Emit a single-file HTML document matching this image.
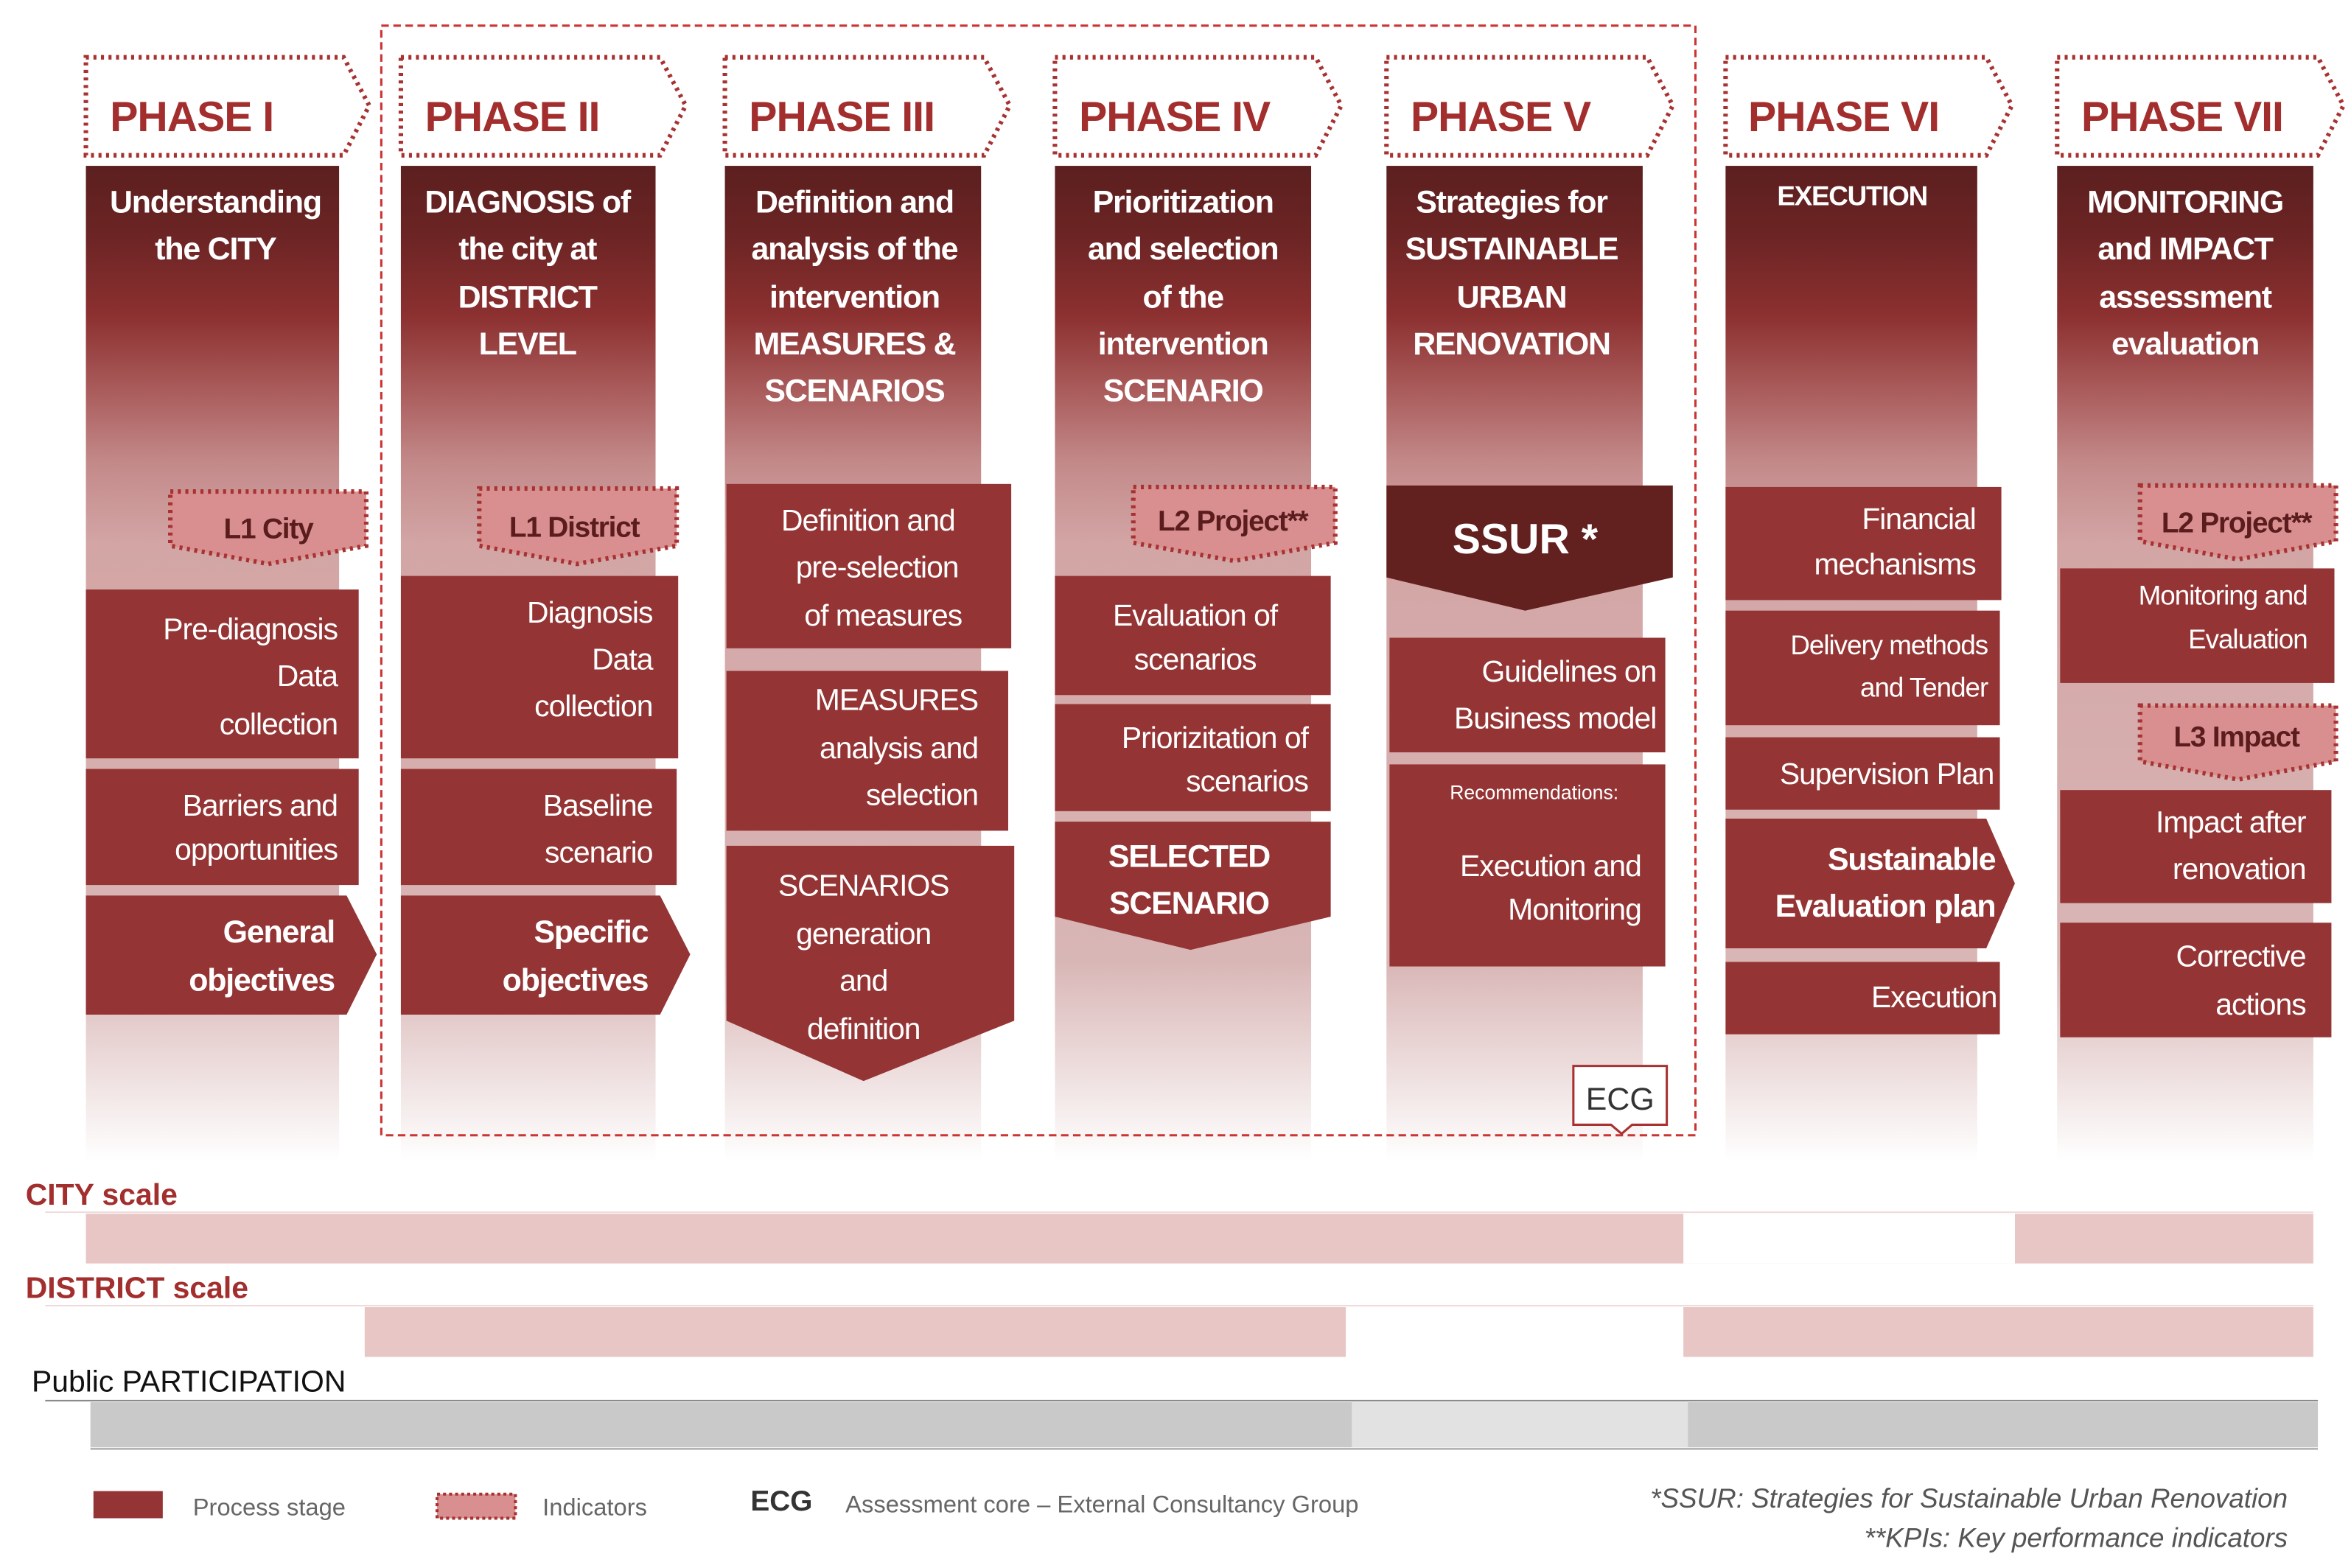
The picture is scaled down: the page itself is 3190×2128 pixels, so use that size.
<!DOCTYPE html>
<html><head><meta charset="utf-8"><style>
html,body{margin:0;padding:0;background:#fff;}
svg{display:block;}
text{font-family:"Liberation Sans",sans-serif;}
.t{fill:#fff;font-weight:bold;font-size:21px;letter-spacing:-0.6px;text-anchor:middle;}
.b{fill:#fff;font-size:20px;letter-spacing:-0.5px;}
.bb{fill:#fff;font-size:21px;font-weight:bold;letter-spacing:-0.6px;}
.ph{fill:#a32e2e;font-weight:bold;font-size:28px;letter-spacing:-0.5px;}
.ind{fill:#5a1c1c;font-size:19px;font-weight:bold;letter-spacing:-0.6px;text-anchor:middle;}
.r{text-anchor:end;} .c{text-anchor:middle;}
</style></head><body>
<svg width="3190" height="2128" viewBox="0 0 1560 1040" preserveAspectRatio="none" xmlns="http://www.w3.org/2000/svg">
<defs>
<linearGradient id="g" x1="0" y1="0" x2="0" y2="1">
<stop offset="0" stop-color="#5c1f1f"/>
<stop offset="0.07" stop-color="#6c2424"/>
<stop offset="0.15" stop-color="#8c3030"/>
<stop offset="0.22" stop-color="#a85858"/>
<stop offset="0.3" stop-color="#c48a8a"/>
<stop offset="0.38" stop-color="#d3a5a5"/>
<stop offset="0.8" stop-color="#d9b6b6"/>
<stop offset="1" stop-color="#ffffff"/>
</linearGradient>
</defs>
<g fill="url(#g)">
<rect x="57" y="110" width="168" height="660"/>
<rect x="266" y="110" width="169" height="660"/>
<rect x="481" y="110" width="170" height="660"/>
<rect x="700" y="110" width="170" height="660"/>
<rect x="920" y="110" width="170" height="660"/>
<rect x="1145" y="110" width="167" height="660"/>
<rect x="1365" y="110" width="170" height="660"/>
</g>
<rect x="253" y="17" width="872" height="736" fill="none" stroke="#c33" stroke-width="1.5" stroke-dasharray="5,3"/>
<g fill="#fff" stroke="#a83232" stroke-width="3" stroke-dasharray="2,3">
<path d="M57 38H228L245 70L228 103H57Z"/>
<path d="M266 38H438L455 70L438 103H266Z"/>
<path d="M481 38H653L670 70L653 103H481Z"/>
<path d="M700 38H873L890 70L873 103H700Z"/>
<path d="M920 38H1093L1110 70L1093 103H920Z"/>
<path d="M1145 38H1318L1335 70L1318 103H1145Z"/>
<path d="M1365 38H1538L1555 70L1538 103H1365Z"/>
</g>
<text class="ph" x="73" y="87">PHASE I</text>
<text class="ph" x="282" y="87">PHASE II</text>
<text class="ph" x="497" y="87">PHASE III</text>
<text class="ph" x="716" y="87">PHASE IV</text>
<text class="ph" x="936" y="87">PHASE V</text>
<text class="ph" x="1160" y="87">PHASE VI</text>
<text class="ph" x="1381" y="87">PHASE VII</text>

<text class="t" x="143" y="141">Understanding</text><text class="t" x="143" y="172">the CITY</text>
<text class="t" x="350" y="141">DIAGNOSIS of</text><text class="t" x="350" y="172">the city at</text><text class="t" x="350" y="204">DISTRICT</text><text class="t" x="350" y="235">LEVEL</text>
<text class="t" x="567" y="141">Definition and</text><text class="t" x="567" y="172">analysis of the</text><text class="t" x="567" y="204">intervention</text><text class="t" x="567" y="235">MEASURES &amp;</text><text class="t" x="567" y="266">SCENARIOS</text>
<text class="t" x="785" y="141">Prioritization</text><text class="t" x="785" y="172">and selection</text><text class="t" x="785" y="204">of the</text><text class="t" x="785" y="235">intervention</text><text class="t" x="785" y="266">SCENARIO</text>
<text class="t" x="1003" y="141">Strategies for</text><text class="t" x="1003" y="172">SUSTAINABLE</text><text class="t" x="1003" y="204">URBAN</text><text class="t" x="1003" y="235">RENOVATION</text>
<text class="t" x="1229" y="136" style="font-size:18px">EXECUTION</text>
<text class="t" x="1450" y="141">MONITORING</text><text class="t" x="1450" y="172">and IMPACT</text><text class="t" x="1450" y="204">assessment</text><text class="t" x="1450" y="235">evaluation</text>

<!-- indicators -->
<g fill="#d98f8f" stroke="#a83232" stroke-width="3" stroke-dasharray="2,3">
<path d="M113 326H243V362L178 374L113 362Z"/>
<path d="M318 324H449V362L383 374L318 362Z"/>
<path d="M752 323H886V360L819 372L752 360Z"/>
<path d="M1420 322H1550V359L1485 371L1420 359Z"/>
<path d="M1420 468H1550V505L1485 517L1420 505Z"/>
</g>
<text class="ind" x="178" y="357">L1 City</text>
<text class="ind" x="381" y="356">L1 District</text>
<text class="ind" x="818" y="352">L2 Project**</text>
<text class="ind" x="1484" y="353">L2 Project**</text>
<text class="ind" x="1484" y="495">L3 Impact</text>

<g fill="#943434">
<rect x="57" y="391" width="181" height="112"/>
<rect x="57" y="510" width="181" height="77"/>
<path d="M57 594H230L250 633L230 673H57Z"/>
<rect x="266" y="382" width="184" height="121"/>
<rect x="266" y="510" width="183" height="77"/>
<path d="M266 594H438L458 633L438 673H266Z"/>
<rect x="482" y="321" width="189" height="109"/>
<rect x="482" y="445" width="187" height="106"/>
<path d="M482 561H673V677L573 717L482 677Z"/>
<rect x="700" y="382" width="183" height="79"/>
<rect x="700" y="467" width="183" height="71"/>
<path d="M700 545H883V608L790 630L700 608Z"/>
<rect x="922" y="423" width="183" height="76"/>
<rect x="922" y="507" width="183" height="134"/>
<rect x="1145" y="323" width="183" height="75"/>
<rect x="1145" y="405" width="182" height="76"/>
<rect x="1145" y="489" width="182" height="48"/>
<path d="M1145 543H1318L1337 586L1318 629H1145Z"/>
<rect x="1145" y="638" width="182" height="48"/>
<rect x="1367" y="377" width="182" height="76"/>
<rect x="1367" y="524" width="180" height="75"/>
<rect x="1367" y="612" width="180" height="76"/>
</g>
<path d="M920 322H1110V383L1012 405L920 383Z" fill="#62201f"/>
<text x="1012" y="367" class="c" style="fill:#fff;font-weight:bold;font-size:28px">SSUR *</text>

<text class="b r" x="224" y="424">Pre-diagnosis</text><text class="b r" x="224" y="455">Data</text><text class="b r" x="224" y="487">collection</text>
<text class="b r" x="224" y="541">Barriers and</text><text class="b r" x="224" y="570">opportunities</text>
<text class="bb r" x="222" y="625">General</text><text class="bb r" x="222" y="657">objectives</text>
<text class="b r" x="433" y="413">Diagnosis</text><text class="b r" x="433" y="444">Data</text><text class="b r" x="433" y="475">collection</text>
<text class="b r" x="433" y="541">Baseline</text><text class="b r" x="433" y="572">scenario</text>
<text class="bb r" x="430" y="625">Specific</text><text class="bb r" x="430" y="657">objectives</text>
<text class="b c" x="576" y="352">Definition and</text><text class="b c" x="582" y="383">pre-selection</text><text class="b c" x="586" y="415">of measures</text>
<text class="b r" x="649" y="471">MEASURES</text><text class="b r" x="649" y="503">analysis and</text><text class="b r" x="649" y="534">selection</text>
<text class="b c" x="573" y="594">SCENARIOS</text><text class="b c" x="573" y="626">generation</text><text class="b c" x="573" y="657">and</text><text class="b c" x="573" y="689">definition</text>
<text class="b c" x="793" y="415">Evaluation of</text><text class="b c" x="793" y="444">scenarios</text>
<text class="b r" x="868" y="496">Priorizitation of</text><text class="b r" x="868" y="525">scenarios</text>
<text class="bb c" x="789" y="575">SELECTED</text><text class="bb c" x="789" y="606">SCENARIO</text>
<text class="b r" x="1099" y="452">Guidelines on</text><text class="b r" x="1099" y="483">Business model</text>
<text x="1018" y="530" class="c" style="fill:#fff;font-size:13px">Recommendations:</text>
<text class="b r" x="1089" y="581">Execution and</text><text class="b r" x="1089" y="610">Monitoring</text>
<text class="b r" x="1311" y="351">Financial</text><text class="b r" x="1311" y="381">mechanisms</text>
<text class="b r" x="1319" y="434" style="font-size:18px">Delivery methods</text><text class="b r" x="1319" y="462" style="font-size:18px">and Tender</text>
<text class="b r" x="1323" y="520">Supervision Plan</text>
<text class="bb r" x="1324" y="577">Sustainable</text><text class="bb r" x="1324" y="608">Evaluation plan</text>
<text class="b r" x="1325" y="668">Execution</text>
<text class="b r" x="1531" y="401" style="font-size:18px">Monitoring and</text><text class="b r" x="1531" y="430" style="font-size:18px">Evaluation</text>
<text class="b r" x="1530" y="552">Impact after</text><text class="b r" x="1530" y="583">renovation</text>
<text class="b r" x="1530" y="641">Corrective</text><text class="b r" x="1530" y="673">actions</text>

<path d="M1044 707H1106V746H1083L1076 752L1069 746H1044Z" fill="#fff" stroke="#a83232" stroke-width="1.5"/>
<text x="1075" y="736" class="c" style="fill:#333;font-size:21px">ECG</text>

<!-- scales -->
<text x="17" y="799" style="fill:#a32e2e;font-weight:bold;font-size:20px">CITY scale</text>
<rect x="57" y="805" width="1478" height="33" fill="#e8c6c6"/>
<rect x="1117" y="805" width="220" height="33" fill="#fff"/>
<line x1="30" y1="804" x2="1535" y2="804" stroke="#f0dada"/>
<text x="17" y="861" style="fill:#a32e2e;font-weight:bold;font-size:20px">DISTRICT scale</text>
<line x1="30" y1="866" x2="1535" y2="866" stroke="#f0dada"/>
<rect x="242" y="867" width="1293" height="33" fill="#e8c6c6"/>
<rect x="893" y="867" width="224" height="33" fill="#fff"/>
<text x="21" y="923" style="fill:#111;font-size:20px">Public PARTICIPATION</text>
<line x1="30" y1="929" x2="1538" y2="929" stroke="#888"/>
<rect x="60" y="930" width="1478" height="30" fill="#c9c9c9"/>
<rect x="897" y="930" width="223" height="30" fill="#e2e2e2"/>
<line x1="60" y1="961" x2="1538" y2="961" stroke="#999"/>

<!-- legend -->
<rect x="62" y="989" width="46" height="18" fill="#943434"/>
<text x="128" y="1005" style="fill:#666;font-size:16px">Process stage</text>
<rect x="290" y="991" width="52" height="16" fill="#d98f8f" stroke="#a83232" stroke-width="2" stroke-dasharray="2,2"/>
<text x="360" y="1005" style="fill:#666;font-size:16px">Indicators</text>
<text x="498" y="1002" style="fill:#333;font-weight:bold;font-size:19px">ECG</text>
<text x="561" y="1003" style="fill:#666;font-size:16px">Assessment core – External  Consultancy Group</text>
<text x="1518" y="1000" class="r" style="fill:#555;font-style:italic;font-size:18px">*SSUR: Strategies for Sustainable Urban Renovation</text>
<text x="1518" y="1026" class="r" style="fill:#555;font-style:italic;font-size:18px">**KPIs: Key performance indicators</text>
</svg>
</body></html>
